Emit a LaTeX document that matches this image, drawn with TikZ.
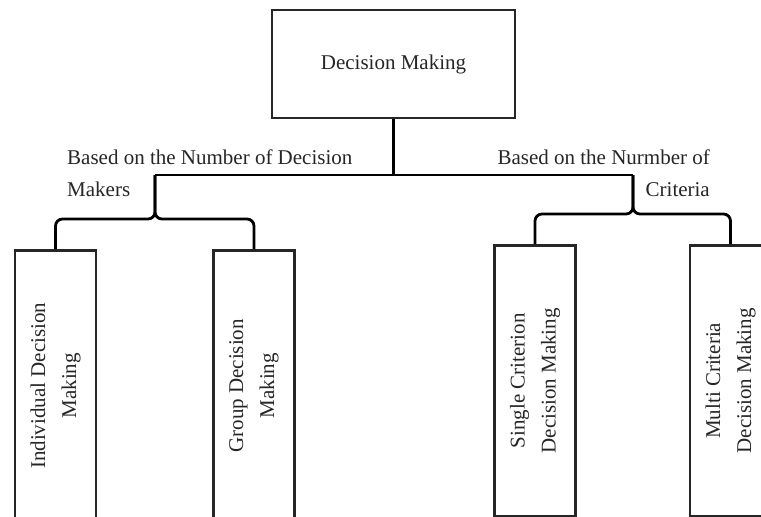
\documentclass[tikz,border=0pt]{standalone}
\usepackage{fontspec}
\setmainfont{Liberation Serif}
\begin{document}
\begin{tikzpicture}[x=1pt,y=-1pt,
  txt/.style={font=\fontsize{21}{32}\selectfont, color=black!85},
  topbox/.style={draw, line width=2.8pt, minimum width=243pt, minimum height=108pt, txt},
  vbox/.style={draw, line width=2.6pt, rotate=90, anchor=east, minimum width=271pt, minimum height=81pt, inner sep=0pt, align=center, txt, font=\fontsize{21}{31}\selectfont},
  lab/.style={txt, inner sep=0pt},
  conn/.style={line width=2.8pt, rounded corners=7pt}]
\useasboundingbox (0,0) rectangle (761,517);
\fill[white] (0,0) rectangle (761,517);
\node[topbox] (top) at (393.5,64) {Decision Making};
\coordinate (jm) at (393.5,175);
\coordinate (jL) at (155,175);
\coordinate (jR) at (633,175);
\coordinate (bL) at (155,219);
\coordinate (bR) at (633,214);
\node[vbox] (b1) at (55.5,249) {Individual Decision\\Making};
\node[vbox] (b2) at (254,249) {Group Decision\\Making};
\node[vbox] (b3) at (535,244) {Single Criterion\\Decision Making};
\node[vbox] (b4) at (730.5,244) {Multi Criteria\\Decision Making};
\draw[conn] (top.south) -- (jm);
\draw[line width=2.8pt] (jL) -- (jR);
\draw[conn] (b1.east) |- (bL) -- (jL);
\draw[conn] (b2.east) |- (bL) -- (jL);
\draw[conn] (b3.east) |- (bR) -- (jR);
\draw[conn] (b4.east) |- (bR) -- (jR);
\node[lab, align=left, anchor=north west] (l1) at (67,150) {Based on the Number of Decision\\Makers};
\node[lab, align=right, anchor=north east] (l2) at (710,150) {Based on the Nurmber of\\Criteria};
\end{tikzpicture}
\end{document}
